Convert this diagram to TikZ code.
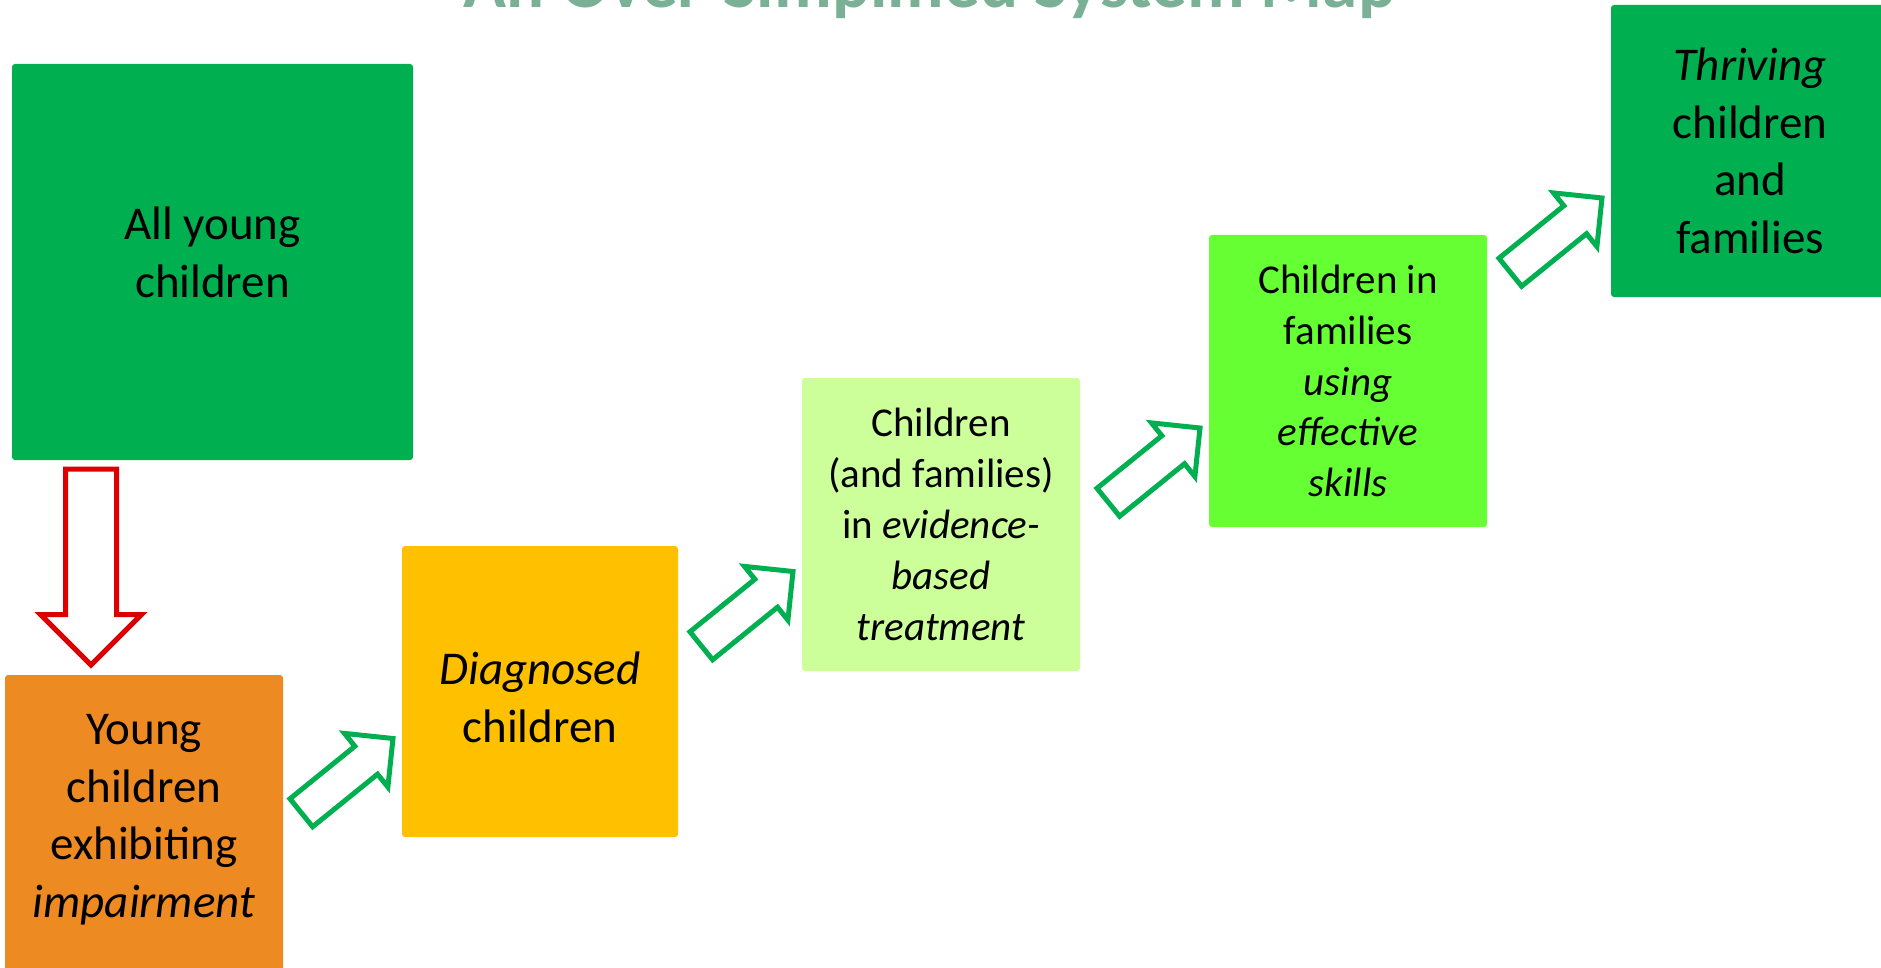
\documentclass[tikz,border=0pt]{standalone}
\usepackage{fontspec}
\setmainfont{Carlito}
\usetikzlibrary{shapes.arrows,calc}
\definecolor{deepgreen}{HTML}{00B050}
\definecolor{orangebox}{HTML}{EE8A22}
\definecolor{goldbox}{HTML}{FFC000}
\definecolor{palegreen}{HTML}{CCFF99}
\definecolor{limebox}{HTML}{66FF33}
\definecolor{titlegreen}{HTML}{7AB096}
\definecolor{arrowred}{HTML}{DD0000}
\newcommand{\largetxt}{\fontsize{47}{57.5}\selectfont}
\newcommand{\smalltxt}{\fontsize{41}{50.8}\selectfont}

\begin{document}
\begin{tikzpicture}[x=1pt, y=-1pt,
  stage/.style={rectangle, rounded corners=3pt, anchor=north west, inner sep=0pt, outer sep=0pt,
    minimum width=278pt, minimum height=292pt, align=center, font=\largetxt},
  blockarrow/.style={single arrow, fill=white, line width=5pt, anchor=tip, inner xsep=0pt, outer sep=0pt},
  flow/.style={blockarrow, draw=deepgreen, rotate=39, minimum height=118pt, minimum width=64pt,
    inner ysep=15.5pt, single arrow head extend=16.5pt}]
  \useasboundingbox (0,0) rectangle (1881,968);
  \clip (0,0) rectangle (1881,968);
  \node[font=\fontsize{71}{85}\selectfont\bfseries, text=titlegreen, anchor=base] (title) at (930,8) {An Over-Simplified System Map};
  \node[stage, fill=deepgreen, minimum width=401pt, minimum height=396pt] (all) at (12,64) {All young\\children\rule[-20pt]{0pt}{20pt}};
  \node[stage, fill=orangebox, minimum height=300pt] (young) at (5,675) {Young\\children\\exhibiting\\\textit{impairment}\rule[-18pt]{0pt}{18pt}};
  \node[stage, fill=goldbox, minimum width=276pt, minimum height=291pt] (diag) at (402,546) {\rule{0pt}{44pt}\textit{Diagnosed}\\children};
  \node[stage, fill=palegreen, font=\smalltxt, minimum height=293pt] (treat) at (802,378) {Children\\(and families)\\in \textit{evidence-}\\\textit{based}\\\textit{treatment}};
  \node[stage, fill=limebox, font=\smalltxt] (skills) at (1209,235) {Children in\\families\\\textit{using}\\\textit{effective}\\\textit{skills}};
  \node[stage, fill=deepgreen] (thrive) at (1611,5) {\textit{Thriving}\\children\\and\\families};
  \node[blockarrow, draw=arrowred, rotate=-90, minimum height=196pt, minimum width=96pt,
    inner ysep=23pt, single arrow head extend=25pt] (drop) at ($(young.north west)+(86,-10)$) {};
  \node[flow] (todiag) at ($(diag.west)+(-9,47)$) {};
  \node[flow] (totreat) at ($(treat.west)+(-9,47)$) {};
  \node[flow] (toskills) at ($(skills.west)+(-9,47)$) {};
  \node[flow] (tothrive) at ($(thrive.west)+(-9,47)$) {};
\end{tikzpicture}
\end{document}
